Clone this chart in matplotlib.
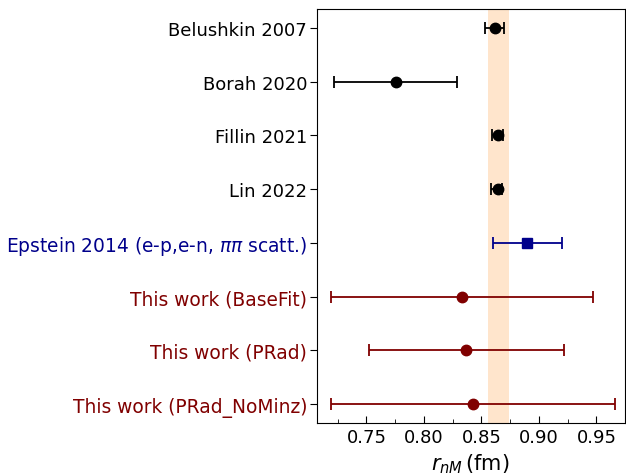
import matplotlib
matplotlib.use("Agg")
import matplotlib.pyplot as plt
from matplotlib.ticker import MultipleLocator

labels = ["Belushkin 2007", "Borah 2020", "Fillin 2021", "Lin 2022",
          r"Epstein 2014 (e-p,e-n, $\pi\pi$ scatt.)",
          "This work (BaseFit)", "This work (PRad)", "This work (PRad_NoMinz)"]
values = [0.862, 0.776, 0.8645, 0.864, 0.890, 0.833, 0.837, 0.843]
err_lo = [0.009, 0.054, 0.0055, 0.0055, 0.030, 0.114, 0.085, 0.124]
err_hi = [0.008, 0.053, 0.004, 0.004, 0.030, 0.114, 0.085, 0.123]
colors = ["black", "black", "black", "black", "#00008b",
          "#800000", "#800000", "#800000"]
markers = ["o", "o", "o", "o", "s", "o", "o", "o"]
band = (0.8558, 0.8737)

fig = plt.figure(figsize=(6.26, 4.77), dpi=100)
ax = fig.add_axes([0.506, 0.111, 0.492, 0.868])

ax.axvspan(band[0], band[1], color="#ffe5cc", lw=0, zorder=0)

for i, (v, lo, hi, c, m) in enumerate(zip(values, err_lo, err_hi, colors, markers)):
    ax.errorbar([v], [i], xerr=[[lo], [hi]], fmt=m, color=c, ecolor=c,
                markersize=7.5, capsize=4,
                elinewidth=1.3, capthick=1.3, zorder=3)

ax.set_yticks(range(len(labels)))
ax.set_yticklabels(labels, fontsize=13)
for t, c in zip(ax.get_yticklabels(), colors):
    t.set_color(c)
    if c != "black":
        t.set_fontsize(13.4)
ax.set_ylim(len(labels) - 1 + 0.35, -0.35)
ax.set_xlim(0.7068, 0.9746)
ax.xaxis.set_major_locator(MultipleLocator(0.05))
ax.xaxis.set_minor_locator(MultipleLocator(0.025))
ax.tick_params(axis="x", which="both", direction="in", labelsize=13)
ax.tick_params(axis="x", which="major", length=5)
ax.tick_params(axis="x", which="minor", length=3)
ax.tick_params(axis="y", direction="out", length=5, pad=2)
ax.set_xlabel(r"$r_{nM}\,$(fm)", fontsize=15)

fig.savefig("out.png", dpi=100)
